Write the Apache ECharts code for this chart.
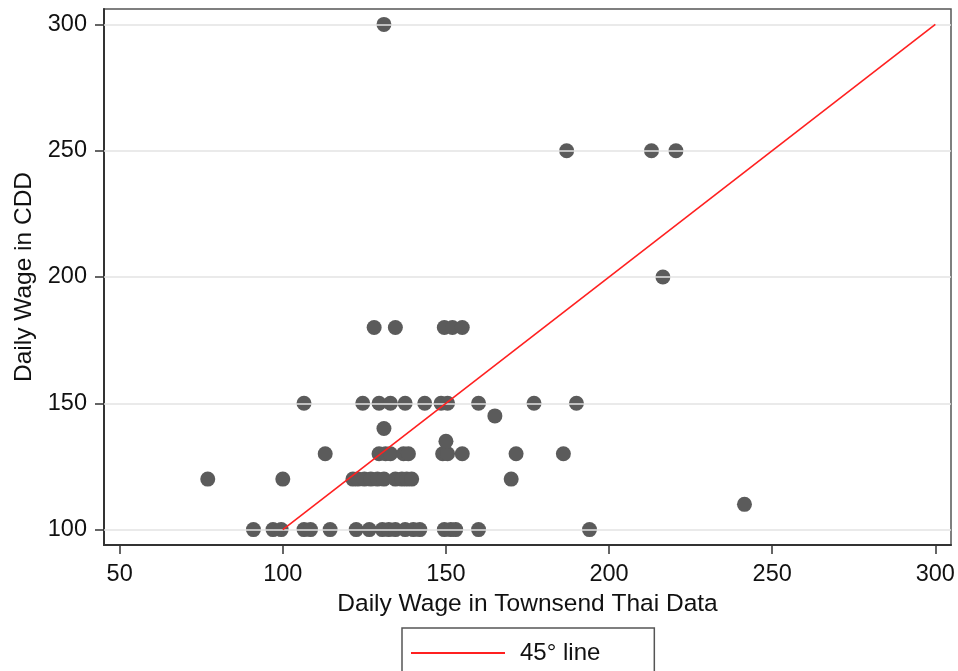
<!DOCTYPE html>
<html>
<head>
<meta charset="utf-8">
<script src="https://cdn.jsdelivr.net/npm/echarts@6/dist/echarts.min.js"></script>
<style>
  html, body { margin: 0; padding: 0; background: #fff; }
  #chart { width: 958px; height: 671px; }
</style>
</head>
<body>
<div id="chart"></div>
<script>
// Daily wage per worker: Townsend Thai survey (x) vs. CDD records (y)
const townsendWage = [
  // CDD = 100
  91, 97, 99.5, 106.5, 108.5, 114.5, 122.5, 126.5, 130.5, 132.5, 134.5, 137.5, 140, 142, 149.5, 151.5, 153, 160, 194,
  // CDD = 110
  241.5,
  // CDD = 120
  77, 100, 121.5, 123, 125, 127, 129, 131, 134.5, 136.5, 138, 139.5, 170,
  // CDD = 130
  113, 129.5, 131.5, 133, 137, 138.5, 149, 150.5, 155, 171.5, 186,
  // CDD = 135, 140, 145
  150, 131, 165,
  // CDD = 150
  106.5, 124.5, 129.5, 133, 137.5, 143.5, 148.5, 150.5, 160, 177, 190,
  // CDD = 180
  128, 134.5, 149.5, 152, 155,
  // CDD = 200, 250, 300
  216.5, 187, 213, 220.5, 131
];
const cddWage = [
  100, 100, 100, 100, 100, 100, 100, 100, 100, 100, 100, 100, 100, 100, 100, 100, 100, 100, 100,
  110,
  120, 120, 120, 120, 120, 120, 120, 120, 120, 120, 120, 120, 120,
  130, 130, 130, 130, 130, 130, 130, 130, 130, 130, 130,
  135, 140, 145,
  150, 150, 150, 150, 150, 150, 150, 150, 150, 150, 150,
  180, 180, 180, 180, 180,
  200, 250, 250, 250, 300
];

// Reference line where both sources agree
const diagonalX = [100, 300];
const diagonalY = [100, 300];

const xTicks = [50, 100, 150, 200, 250, 300];
const yTicks = [100, 150, 200, 250, 300];

const FONT = '"Liberation Sans", Arial, Helvetica, sans-serif';
const TEXT = '#111111';

const chart = echarts.init(document.getElementById('chart'), null, { renderer: 'canvas' });

chart.setOption({
  animation: false,
  backgroundColor: '#ffffff',
  grid: {
    left: 104, right: 7, top: 9, bottom: 126,
    show: true, borderColor: '#555', borderWidth: 1.5, backgroundColor: '#fff'
  },
  xAxis: {
    type: 'value',
    min: 45.2, max: 304.8,
    name: 'Daily Wage in Townsend Thai Data',
    nameLocation: 'middle',
    nameGap: 45,
    nameTextStyle: { fontFamily: FONT, fontSize: 24.5, color: TEXT },
    axisLine: { show: true, onZero: false, lineStyle: { color: '#333', width: 2 } },
    axisTick: { show: true, customValues: xTicks, length: 9, lineStyle: { color: '#333', width: 1.5 } },
    axisLabel: { customValues: xTicks, fontFamily: FONT, fontSize: 23.5, color: TEXT, margin: 18 },
    splitLine: { show: false }
  },
  yAxis: {
    type: 'value',
    min: 93.9, max: 306.1,
    name: 'Daily Wage in CDD',
    nameLocation: 'middle',
    nameGap: 67,
    nameTextStyle: { fontFamily: FONT, fontSize: 24.5, color: TEXT },
    axisLine: { show: true, onZero: false, lineStyle: { color: '#333', width: 2 } },
    axisTick: { show: true, customValues: yTicks, length: 9, lineStyle: { color: '#333', width: 1.5 } },
    axisLabel: { customValues: yTicks, fontFamily: FONT, fontSize: 23.5, color: TEXT, margin: 17 },
    splitLine: { show: false }
  },
  legend: {
    data: [{ name: '45° line', icon: 'rect' }],
    left: 402, top: 628,
    padding: [13, 54, 20, 9],
    borderColor: '#555', borderWidth: 1.5,
    itemWidth: 94, itemHeight: 2,
    textStyle: { fontFamily: FONT, fontSize: 24, color: TEXT, padding: [0, 0, 0, 10] }
  },
  series: [
    {
      // horizontal gridlines at the labelled CDD values
      name: 'grid',
      type: 'scatter',
      data: [],
      silent: true,
      z: 1,
      markLine: {
        silent: true,
        symbol: 'none',
        label: { show: false },
        lineStyle: { color: '#e3e3e3', width: 1.5, type: 'solid' },
        data: yTicks.map(v => ({ yAxis: v }))
      }
    },
    {
      name: 'wages',
      type: 'scatter',
      symbol: 'circle',
      symbolSize: 15,
      itemStyle: { color: '#5b5b5b', opacity: 1 },
      data: townsendWage.map((x, i) => [x, cddWage[i]]),
      z: 3
    },
    {
      name: '45° line',
      type: 'line',
      symbol: 'none',
      lineStyle: { color: '#ff2020', width: 1.6 },
      itemStyle: { color: '#ff2020' },
      data: diagonalX.map((x, i) => [x, diagonalY[i]]),
      z: 10
    }
  ]
});
</script>
</body>
</html>
